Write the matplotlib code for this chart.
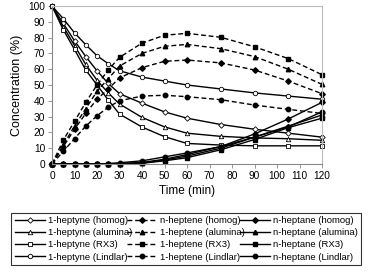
import matplotlib.pyplot as plt
import numpy as np

plt.rcParams['font.family'] = ['Liberation Sans', 'DejaVu Sans']

t = [0, 5, 10, 15, 20, 25, 30, 40, 50, 60, 75, 90, 105, 120]

# 1-heptyne
yne_homog = [100, 89, 78, 68, 59, 51, 44.5, 38.5, 33, 29, 25, 22, 19.5, 17]
yne_alum = [100, 87, 75, 63, 53, 45, 38, 29.5, 23.5, 19.5, 17.5, 16.5, 16, 15]
yne_rx3 = [100, 85, 72.5, 59.5, 50, 40.5, 31.6, 23.4, 17.3, 13, 12, 11.5, 11.5, 11.5]
yne_lind = [100, 92, 83, 75.5, 68.5, 63.5, 59, 55, 52.5, 50, 47.5, 45, 43, 41]

# heptenes
ene_homog = [0, 11, 22, 32, 41, 47.5, 54.5, 61, 65, 65.8, 64, 59.5, 52.5, 44.5]
ene_alum = [0, 12, 24, 35, 46, 54, 62, 70, 74.5, 75.7, 73, 68, 60, 50.4]
ene_rx3 = [0, 15, 27, 39, 50, 59.5, 67.5, 76.5, 81.5, 82.7, 80.2, 74.2, 66.7, 56.5]
ene_lind = [0, 8, 16, 24, 30.5, 36, 40, 43, 43.5, 42.6, 40.7, 37.3, 34.6, 32]

# n-heptane
ane_homog = [0, 0, 0, 0, 0, 0, 0.3, 1, 3, 6, 11, 19, 28.5, 39]
ane_alum = [0, 0, 0, 0, 0, 0, 0.2, 0.5, 2.5, 5, 10, 17, 24, 31]
ane_rx3 = [0, 0, 0, 0, 0, 0, 0.2, 0.5, 2, 4, 9, 15.5, 23, 29]
ane_lind = [0, 0, 0, 0, 0, 0.3, 0.8, 2, 4.5, 7, 11, 17, 23.5, 33]

labels_yne = ["1-heptyne (homog)", "1-heptyne (alumina)", "1-heptyne (RX3)", "1-heptyne (Lindlar)"]
labels_ene = ["n-heptene (homog)", "1-heptene (alumina)", "1-heptene (RX3)", "1-heptene (Lindlar)"]
labels_ane = ["n-heptane (homog)", "n-heptane (alumina)", "n-heptane (RX3)", "n-heptane (Lindlar)"]
markers = ["D", "^", "s", "o"]
msizes = [2.8, 3.2, 3.2, 3.2]

fig = plt.figure(figsize=(3.7, 2.73), dpi=100)
ax = fig.add_axes([52/370, 1-164/273, 270/370, 158/273])

handles = []
for ys, lab, m, ms in zip([yne_homog, yne_alum, yne_rx3, yne_lind], labels_yne, markers, msizes):
    h, = ax.plot(t, ys, color="black", lw=1.0, marker=m, ms=ms, mfc="white", mec="black", mew=0.6, clip_on=False, label=lab)
    handles.append(h)
for ys, lab, m, ms in zip([ene_homog, ene_alum, ene_rx3, ene_lind], labels_ene, markers, msizes):
    h, = ax.plot(t, ys, color="black", lw=1.0, ls=(0, (3.5, 2)), marker=m, ms=ms, mfc="black", mec="black", clip_on=False, label=lab)
    handles.append(h)
for ys, lab, m, ms in zip([ane_homog, ane_alum, ane_rx3, ane_lind], labels_ane, markers, msizes):
    h, = ax.plot(t, ys, color="black", lw=1.0, marker=m, ms=ms, mfc="black", mec="black", clip_on=False, label=lab)
    handles.append(h)

ax.set_xlim(0, 120)
ax.set_ylim(0, 100)
ax.set_xticks(np.arange(0, 121, 10))
ax.set_yticks(np.arange(0, 101, 10))
ax.tick_params(labelsize=7.3, length=3, width=0.6, color="#888888", pad=2)
for s in ["left", "bottom"]:
    ax.spines[s].set_color("#888888")
    ax.spines[s].set_linewidth(0.8)
for s in ["top", "right"]:
    ax.spines[s].set_color("#bbbbbb")
    ax.spines[s].set_linewidth(0.8)
ax.set_xlabel("Time (min)", fontsize=8.5, labelpad=3)
ax.set_ylabel("Concentration (%)", fontsize=9, labelpad=4)

leg = fig.legend(handles=handles, ncol=3, loc="lower left",
                 bbox_to_anchor=(6/370, 3/273, 360/370, 59/273), mode="expand",
                 fontsize=6.8, frameon=True, fancybox=False, edgecolor="black",
                 handlelength=3.2, handletextpad=0.3, borderpad=0.4, labelspacing=0.32,
                 columnspacing=0.3)
leg.get_frame().set_linewidth(0.8)

fig.savefig("out.png", dpi=100)
